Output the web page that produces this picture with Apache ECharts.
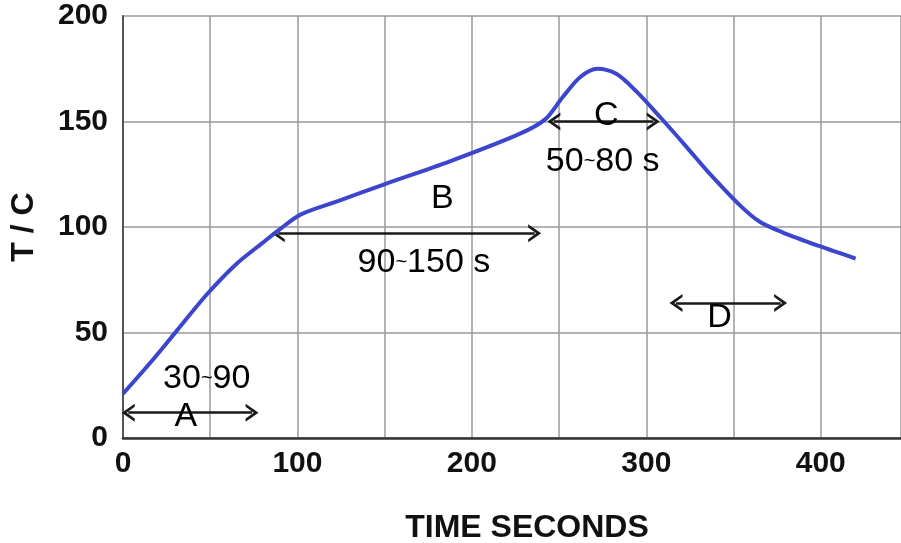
<!DOCTYPE html>
<html>
<head>
<meta charset="utf-8">
<script src="https://cdn.jsdelivr.net/npm/echarts@6/dist/echarts.min.js"></script>
<style>
html,body{margin:0;padding:0;background:#fff;}
#chart{width:901px;height:543px;}
</style>
</head>
<body>
<div id="chart"></div>
<script>
// Temperature profile (time in seconds, temperature in C)
var timeSec = [0, 17, 31, 48, 65, 80, 90, 102, 124, 149, 187, 227, 242, 252, 262, 272, 283, 294, 308, 323, 335, 354, 365, 378, 399, 420];
var tempC   = [21, 37, 51, 68, 82.5, 92.5, 99, 106, 112.5, 120, 131, 144, 151, 161.5, 171, 175, 172.5, 164.5, 152, 138, 126.5, 110, 102.5, 97.5, 91, 85];

// Double-headed arrows: start x, end x, y
var arrowNames = ['A', 'B', 'C', 'D'];
var arrowX0 = [3, 89, 247, 317];
var arrowX1 = [74, 236, 304, 377];
var arrowY  = [12, 97, 150, 64];

// Annotation texts
var noteText = ['30~90', 'A', 'B', '90~150 s', 'C', '50~80 s', 'D'];
var noteX    = [48, 36, 183, 172.5, 277, 275, 342];
var noteY    = [28, 10, 113.5, 83, 153, 131, 57];

// Axis ticks
var xMin = 0, xMax = 446, xStep = 50, xLabelStep = 100, xLabelMax = 400;
var yMin = 0, yMax = 200, yStep = 50;

var FONT = '"Liberation Sans", Arial, sans-serif';
var chart = echarts.init(document.getElementById('chart'), null, {renderer: 'canvas'});

var curve = timeSec.map(function (t, i) { return [t, tempC[i]]; });
var arrowLines = arrowNames.map(function (n, i) {
  return [{coord: [arrowX0[i], arrowY[i]], name: n}, {coord: [arrowX1[i], arrowY[i]]}];
});
var notes = noteText.map(function (s, i) { return [noteX[i], noteY[i], s]; });

var chevron = 'path://M10,0 L20,12 L16.5,12 L10,4.5 L3.5,12 L0,12 Z';

chart.setOption({
  animation: false,
  backgroundColor: '#ffffff',
  grid: {left: 123, right: 0, top: 16, bottom: 105, containLabel: false, outerBoundsMode: 'none'},
  xAxis: {
    type: 'value', min: xMin, max: xMax, interval: xStep,
    name: 'TIME SECONDS', nameLocation: 'middle', nameGap: 74,
    nameTextStyle: {fontFamily: FONT, fontWeight: 'bold', fontSize: 32, color: '#111', padding: [0, 0, 0, 30]},
    axisLine: {show: true, lineStyle: {color: '#333', width: 2.5}},
    axisTick: {show: false},
    axisLabel: {
      fontFamily: FONT, fontWeight: 'bold', fontSize: 30, color: '#111', margin: 11,
      showMaxLabel: false,
      formatter: function (v) { return (v % xLabelStep === 0 && v <= xLabelMax) ? String(v) : ''; }
    },
    splitLine: {show: true, lineStyle: {color: '#9a9a9a', width: 1.5}}
  },
  yAxis: {
    type: 'value', min: yMin, max: yMax, interval: yStep,
    name: 'T / C', nameLocation: 'middle', nameGap: 83,
    nameTextStyle: {fontFamily: FONT, fontWeight: 'bold', fontSize: 32, color: '#111'},
    axisLine: {show: true, lineStyle: {color: '#555', width: 2}},
    axisTick: {show: false},
    axisLabel: {fontFamily: FONT, fontWeight: 'bold', fontSize: 30, color: '#111', margin: 15},
    splitLine: {show: true, lineStyle: {color: '#9a9a9a', width: 1.5}}
  },
  series: [
    {
      type: 'line', data: curve, smooth: 0.3, symbol: 'none',
      lineStyle: {color: '#3c46cc', width: 4}, z: 5
    },
    {
      type: 'line', data: [], silent: true,
      markLine: {
        silent: true, animation: false,
        symbol: [chevron, chevron], symbolSize: [18, 13],
        label: {show: false},
        lineStyle: {color: '#1a1a1a', width: 2.5, type: 'solid', opacity: 1},
        itemStyle: {color: '#1a1a1a'},
        emphasis: {disabled: true},
        data: arrowLines
      }, z: 4
    },
    {
      type: 'scatter', data: notes, symbolSize: 0, silent: true, z: 6,
      itemStyle: {opacity: 1},
      label: {
        show: true, position: 'inside', opacity: 1,
        fontFamily: FONT, fontSize: 34, color: '#000',
        formatter: function (p) { return p.value[2].replace('~', '{t|~}'); },
        rich: {t: {fontFamily: FONT, fontSize: 20, color: '#000'}}
      }
    }
  ]
});
</script>
</body>
</html>
